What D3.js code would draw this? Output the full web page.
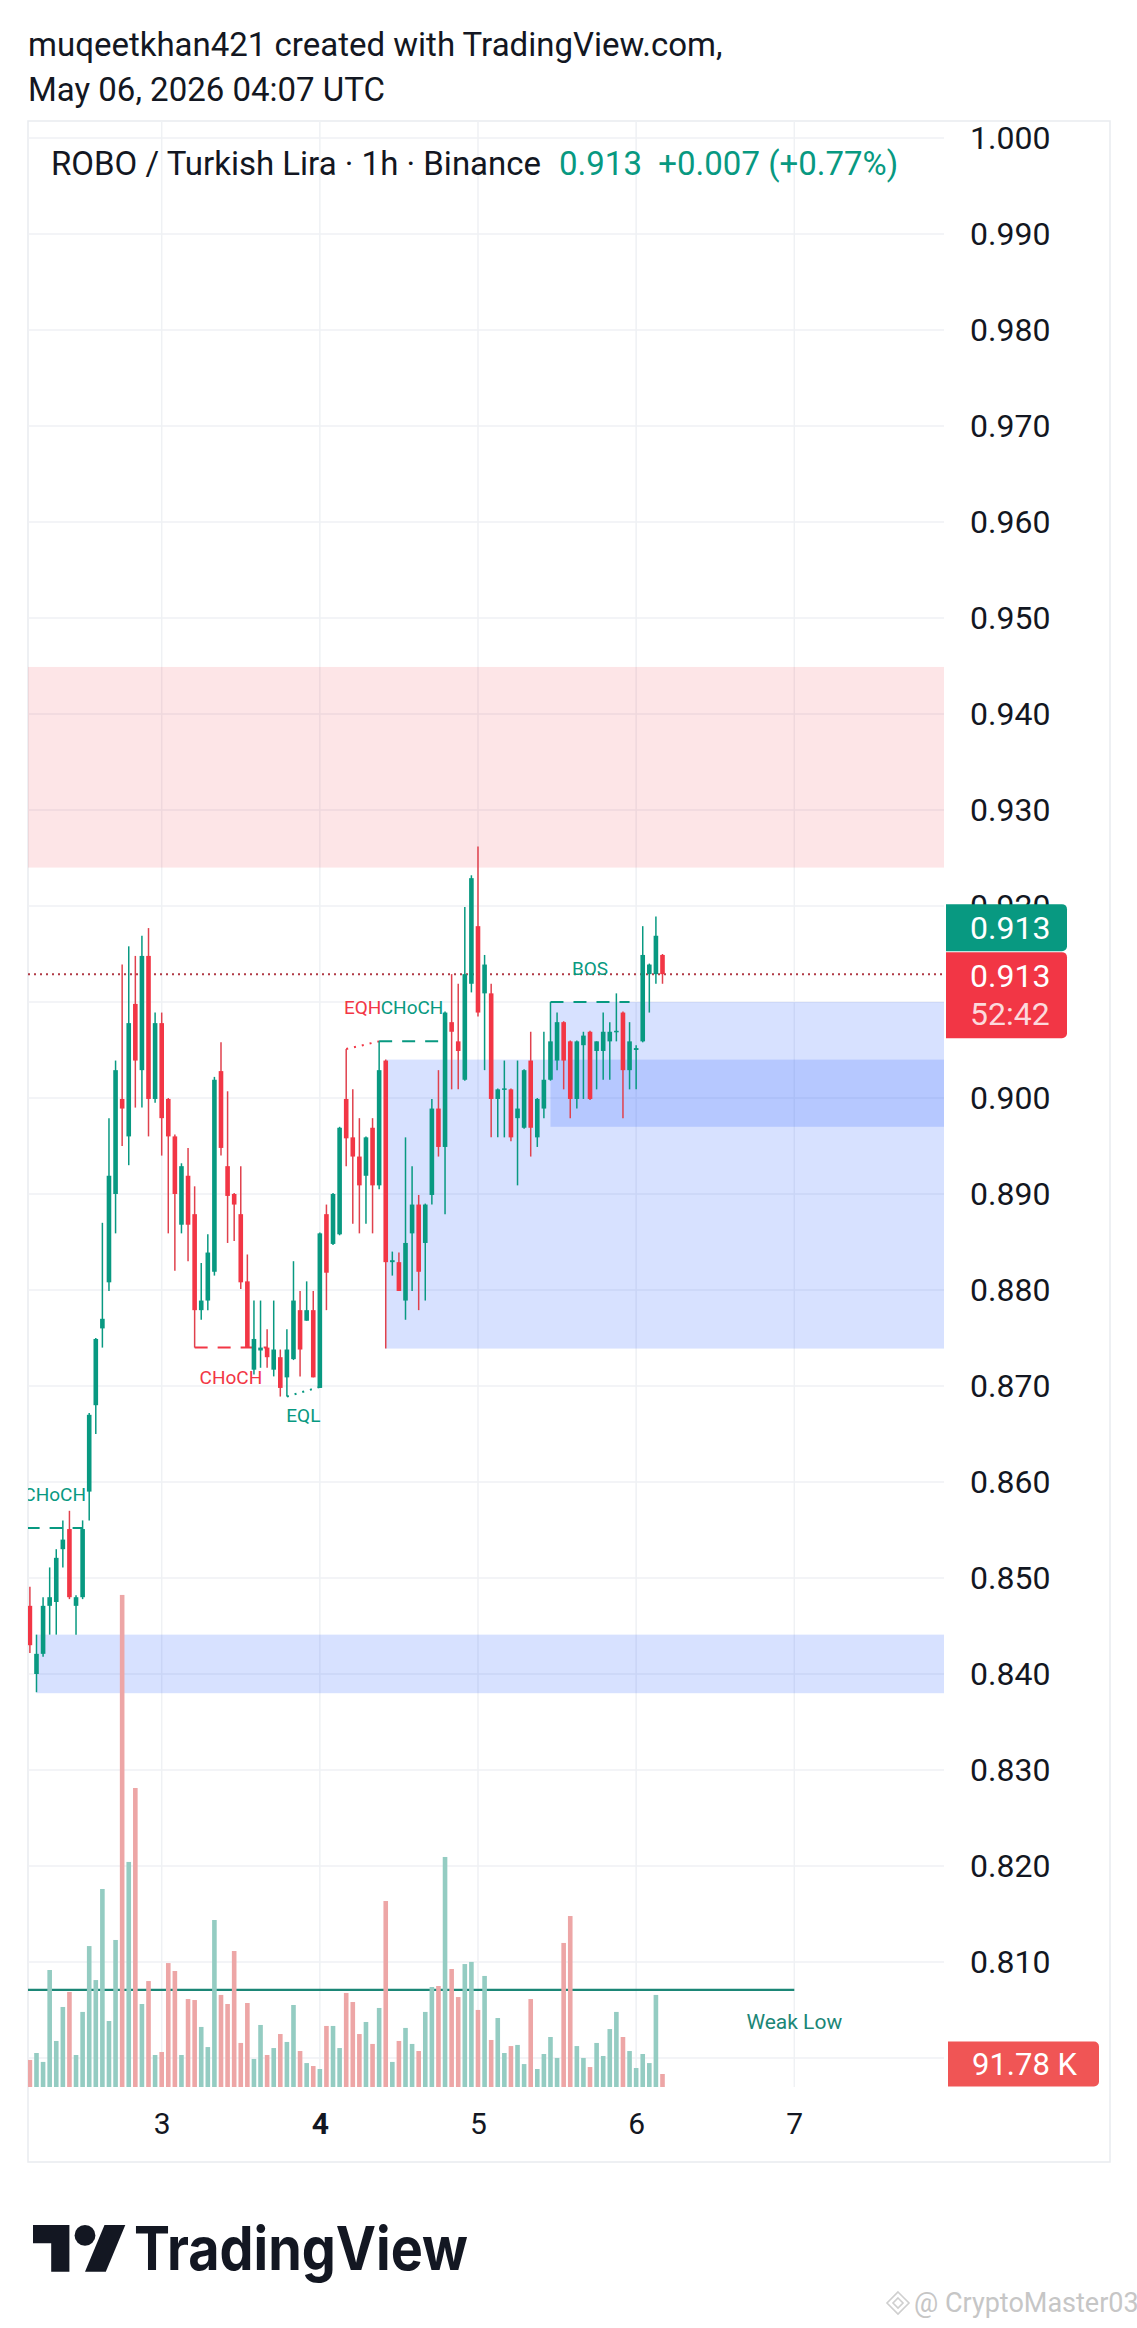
<!DOCTYPE html>
<html>
<head>
<meta charset="utf-8">
<script src="https://cdn.jsdelivr.net/npm/d3@7"></script>
<style>
  html, body { margin: 0; padding: 0; background: #fff; }
  svg { display: block; font-family: Roboto, "Noto Sans", sans-serif; }
</style>
</head>
<body>
<svg id="chart" width="1137" height="2328"></svg>
<script>
// ROBO / TRY, 1h candles (Binance), first bar May 2 04:00 UTC
var startTime = "2026-05-02T04:00:00Z";

var opens = [
  .8471, .8400, .8421, .8471, .8475, .8530, .8551, .8471, .8480, .8590,
  .8680, .8760, .8808, .8900, .8999, .8960, .9098, .9029, .9148, .8999,
  .9078, .8999, .8960, .8868, .8919, .8879, .8779, .8789, .8819, .9028,
  .8929, .8900, .8879, .8809, .8717, .8737, .8740, .8717, .8730, .8709,
  .8728, .8779, .8768, .8779, .8698, .8879, .8848, .8858, .8999, .8959,
  .8939, .8919, .8969, .8909, .9039, .8829, .8829, .8789, .8859, .8889,
  .8849, .8899, .8989, .8949, .9079, .9059, .9019, .9119, .9179, .9109,
  .9109, .8999, .9009, .9009, .8979, .8969, .9039, .8959, .8989, .9019,
  .9039, .9079, .9059, .8999, .9055, .9069, .9049, .9049, .9059, .9069,
  .9089, .9029, .9050, .9059, .9129, .9129, .9149
];
var highs = [
  .8491, .8441, .8480, .8511, .8530, .8560, .8570, .8482, .8560, .8672,
  .8750, .8870, .8979, .9039, .9139, .9158, .9148, .9169, .9177, .9089,
  .9089, .9000, .8962, .8932, .8948, .8908, .8828, .8858, .9022, .9058,
  .9007, .8901, .8929, .8837, .8789, .8789, .8759, .8789, .8738, .8759,
  .8830, .8799, .8809, .8799, .8860, .8889, .8901, .8970, .9051, .9009,
  .8979, .8960, .8979, .9059, .9040, .8840, .8839, .8959, .8929, .8899,
  .8890, .8999, .9029, .9090, .9129, .9119, .9199, .9232, .9262, .9149,
  .9119, .9010, .9039, .9010, .9039, .9030, .9069, .9000, .9069, .9100,
  .9089, .9080, .9060, .9060, .9069, .9070, .9059, .9089, .9079, .9109,
  .9090, .9079, .9055, .9179, .9140, .9189, .9150
];
var lows = [
  .8422, .8381, .8418, .8441, .8441, .8511, .8478, .8441, .8478, .8560,
  .8650, .8740, .8799, .8859, .8950, .8930, .8990, .8990, .8960, .8995,
  .8940, .8859, .8820, .8859, .8830, .8740, .8769, .8779, .8815, .8940,
  .8849, .8851, .8801, .8740, .8712, .8719, .8719, .8710, .8689, .8689,
  .8727, .8710, .8768, .8709, .8698, .8779, .8847, .8857, .8929, .8869,
  .8859, .8869, .8859, .8905, .8739, .8815, .8799, .8769, .8799, .8779,
  .8789, .8889, .8939, .8879, .9009, .9009, .9018, .9110, .9085, .9029,
  .8959, .8959, .8959, .8955, .8909, .8968, .8939, .8949, .8979, .9018,
  .9029, .9009, .8979, .8989, .8999, .8998, .9009, .9019, .9019, .9059,
  .8979, .9009, .9009, .9058, .9089, .9119, .9119
];
var closes = [
  .8430, .8421, .8471, .8480, .8521, .8540, .8480, .8480, .8551, .8670,
  .8749, .8770, .8919, .9029, .8989, .9078, .9039, .9148, .8999, .9078,
  .8979, .8960, .8900, .8929, .8868, .8779, .8789, .8839, .9019, .8948,
  .8898, .8889, .8808, .8740, .8749, .8740, .8730, .8738, .8698, .8738,
  .8789, .8738, .8779, .8709, .8859, .8818, .8900, .8969, .8958, .8939,
  .8909, .8959, .8909, .9029, .8829, .8831, .8799, .8849, .8889, .8819,
  .8889, .8989, .8949, .9089, .9069, .9049, .9129, .9229, .9089, .9139,
  .8999, .9009, .9010, .8959, .8989, .9029, .8969, .8999, .9019, .9059,
  .9079, .9039, .8999, .9059, .9065, .8999, .9059, .9069, .9069, .9070,
  .9029, .9059, .9052, .9149, .9139, .9169, .9129
];
// volume, thousands of ROBO
var volumes = [
  191, 240, 177, 826, 325, 565, 671, 226, 530, 995,
  755, 1398, 466, 1038, 3474, 1589, 2111, 586, 748, 226,
  247, 875, 819, 226, 621, 614, 424, 282, 1179, 650,
  586, 960, 311, 593, 198, 438, 226, 275, 374, 318,
  579, 254, 169, 148, 127, 431, 431, 275, 664, 600,
  374, 459, 304, 558, 1313, 177, 325, 417, 304, 254,
  530, 706, 713, 1624, 833, 635, 868, 883, 544, 784,
  332, 487, 240, 289, 297, 162, 621, 127, 233, 353,
  205, 1017, 1207, 289, 205, 141, 311, 219, 409, 530,
  353, 254, 134, 233, 169, 650, 91.78
];

var gridTicks = [1.000, 0.990, 0.980, 0.970, 0.960, 0.950, 0.940, 0.930, 0.920, 0.910,
  0.900, 0.890, 0.880, 0.870, 0.860, 0.850, 0.840, 0.830, 0.820, 0.810, 0.800];
var priceLabels = [1.000, 0.990, 0.980, 0.970, 0.960, 0.950, 0.940, 0.930, 0.920, 0.910,
  0.900, 0.890, 0.880, 0.870, 0.860, 0.850, 0.840, 0.830, 0.820, 0.810];
var dayTicks = ["2026-05-03", "2026-05-04", "2026-05-05", "2026-05-06", "2026-05-07"];
var boldDay = "4";

// order blocks: start bar, top, bottom, side
var zoneFrom = [-5, 1, 54, 79];
var zoneTop = [0.9449, 0.8441, 0.9040, 0.9100];
var zoneBottom = [0.9240, 0.8380, 0.8739, 0.8970];
var zoneSide = ["bear", "bull", "bull", "bull"];

// market structure: from bar, to bar, price, label, side, style
var structFrom = [-0.5, 25, 39, 48, 53, 79];
var structTo = [8, 36, 44, 53, 63, 91];
var structFromPrice = [0.8552, 0.8740, 0.8689, 0.9051, 0.9059, 0.9100];
var structToPrice = [0.8552, 0.8740, 0.8699, 0.9059, 0.9059, 0.9100];
var structLabel = ["CHoCH", "CHoCH", "EQL", "EQH", "CHoCH", "BOS"];
var structSide = ["bull", "bear", "bull", "bear", "bull", "bull"];
var structKind = ["break", "break", "equal", "equal", "break", "break"];

var weakLowPrice = 0.8071;
var weakLowTo = "2026-05-07";

var headerLines = ["muqeetkhan421 created with TradingView.com,", "May 06, 2026 04:07 UTC"];
var symbolTitle = "ROBO / Turkish Lira \u00b7 1h \u00b7 Binance";
var lastChange = "+0.007 (+0.77%)";
var countdown = "52:42";

var UP = "#089981", DOWN = "#f23645";
var UP_VOL = "#94ccc2", DOWN_VOL = "#eda6a6";

var svg = d3.select("#chart");
var frame = {left: 28, top: 121, right: 1110, bottom: 2162};
var pane = {left: 28, top: 121, right: 944, bottom: 2087};

var t0 = new Date(startTime);
var times = d3.utcHour.range(t0, d3.utcHour.offset(t0, opens.length));
var bars = opens.map(function(o, i) {
  return {t: times[i], o: o, h: highs[i], l: lows[i], c: closes[i], v: volumes[i]};
});

var x = d3.scaleUtc().domain([times[0], times[times.length - 1]]).range([29.9, 662.5]);
function xi(i) { return x(new Date(+t0 + i * 3600e3)); }
var y = d3.scaleLinear().domain([1.0, 0.8]).range([138, 2058]);
var yVol = d3.scaleLinear().domain([0, 3500]).range([pane.bottom, pane.bottom - 3500 / 7.06]);
var bodyW = 4.6;

// header
svg.selectAll("text.hdr").data(headerLines).enter().append("text")
  .attr("class", "hdr")
  .attr("x", 28).attr("y", function(d, i) { return 56 + i * 45; })
  .attr("font-size", 33).attr("fill", "#131722")
  .text(function(d) { return d; });

svg.append("rect")
  .attr("x", frame.left).attr("y", frame.top)
  .attr("width", frame.right - frame.left).attr("height", frame.bottom - frame.top)
  .attr("fill", "#fff").attr("stroke", "#e9ebef").attr("stroke-width", 1.5);

svg.append("clipPath").attr("id", "paneClip").append("rect")
  .attr("x", pane.left).attr("y", pane.top)
  .attr("width", pane.right - pane.left).attr("height", pane.bottom - pane.top);

var g = svg.append("g").attr("clip-path", "url(#paneClip)");

// grid
g.selectAll("line.hgrid").data(gridTicks).enter().append("line")
  .attr("x1", pane.left).attr("x2", pane.right)
  .attr("y1", function(d) { return y(d); }).attr("y2", function(d) { return y(d); })
  .attr("stroke", "#eff1f4").attr("stroke-width", 1.5);
g.selectAll("line.vgrid").data(dayTicks).enter().append("line")
  .attr("x1", function(d) { return x(new Date(d + "T00:00:00Z")); })
  .attr("x2", function(d) { return x(new Date(d + "T00:00:00Z")); })
  .attr("y1", pane.top).attr("y2", pane.bottom)
  .attr("stroke", "#eff1f4").attr("stroke-width", 1.5);

// zones
g.selectAll("rect.zone").data(zoneFrom).enter().append("rect")
  .attr("x", function(d) { return xi(d); })
  .attr("width", function(d) { return pane.right - xi(d); })
  .attr("y", function(d, i) { return y(zoneTop[i]); })
  .attr("height", function(d, i) { return y(zoneBottom[i]) - y(zoneTop[i]); })
  .attr("fill", function(d, i) { return zoneSide[i] == "bear" ? "rgba(242,54,69,0.13)" : "rgba(41,98,255,0.19)"; });

// last price line
var last = bars[bars.length - 1];
g.append("line")
  .attr("x1", pane.left).attr("x2", pane.right)
  .attr("y1", y(last.c)).attr("y2", y(last.c))
  .attr("stroke", "#b03a45").attr("stroke-width", 2).attr("stroke-dasharray", "2,4");

// weak low
var wlX = x(new Date(weakLowTo + "T00:00:00Z"));
g.append("line")
  .attr("x1", pane.left).attr("x2", wlX)
  .attr("y1", y(weakLowPrice)).attr("y2", y(weakLowPrice))
  .attr("stroke", "#1b8676").attr("stroke-width", 2.2);
g.append("text")
  .attr("x", wlX).attr("y", y(weakLowPrice) + 32)
  .attr("text-anchor", "middle").attr("dy", "0.35em")
  .attr("font-size", 21).attr("fill", "#1b8676")
  .text("Weak Low");

// volume
g.selectAll("rect.vol").data(bars).enter().append("rect")
  .attr("x", function(d) { return x(d.t) - bodyW / 2; })
  .attr("width", bodyW)
  .attr("y", function(d) { return yVol(d.v); })
  .attr("height", function(d) { return yVol(0) - yVol(d.v); })
  .attr("fill", function(d) { return d.c >= d.o ? UP_VOL : DOWN_VOL; });

// structure lines
var structs = structLabel.map(function(l, i) {
  return {from: structFrom[i], to: structTo[i], p1: structFromPrice[i], p2: structToPrice[i],
    label: l, side: structSide[i], kind: structKind[i]};
});
g.selectAll("line.struct").data(structs).enter().append("line")
  .attr("x1", function(d) { return xi(d.from); })
  .attr("x2", function(d) { return xi(d.to); })
  .attr("y1", function(d) { return y(d.p1); })
  .attr("y2", function(d) { return y(d.p2); })
  .attr("stroke", function(d) { return d.side == "bull" ? UP : DOWN; })
  .attr("stroke-width", 2)
  .attr("stroke-dasharray", function(d) { return d.kind == "equal" ? "2,6" : "13,10"; });

// candles
var candle = g.selectAll("g.candle").data(bars).enter().append("g");
candle.append("line")
  .attr("x1", function(d) { return x(d.t); }).attr("x2", function(d) { return x(d.t); })
  .attr("y1", function(d) { return y(d.h); }).attr("y2", function(d) { return y(d.l); })
  .attr("stroke", function(d) { return d.c >= d.o ? UP : "#e0414d"; })
  .attr("stroke-width", 1.5);
candle.append("rect")
  .attr("x", function(d) { return x(d.t) - bodyW / 2; })
  .attr("width", bodyW)
  .attr("y", function(d) { return y(Math.max(d.o, d.c)); })
  .attr("height", function(d) { return Math.max(1.5, Math.abs(y(d.o) - y(d.c))); })
  .attr("fill", function(d) { return d.c >= d.o ? UP : DOWN; });

// structure labels
g.selectAll("text.struct").data(structs).enter().append("text")
  .attr("x", function(d) { return xi((d.from + d.to) / 2); })
  .attr("y", function(d) {
    var p = (d.p1 + d.p2) / 2;
    if (d.kind == "equal") return y(p) + (d.side == "bull" ? 24 : -38);
    return y(p) + (d.side == "bull" ? -34 : 30);
  })
  .attr("dy", "0.35em").attr("text-anchor", "middle")
  .attr("font-size", 19)
  .attr("fill", function(d) { return d.side == "bull" ? UP : DOWN; })
  .text(function(d) { return d.label; });

// title
var title = svg.append("text")
  .attr("x", 51).attr("y", 175).attr("font-size", 33).attr("fill", "#131722")
  .text(symbolTitle);
var tEnd = 51 + title.node().getComputedTextLength();
svg.append("text")
  .attr("x", tEnd + 18).attr("y", 175).attr("font-size", 33).attr("fill", UP)
  .attr("xml:space", "preserve")
  .text(d3.format(".3f")(last.c) + "  " + lastChange);

// price axis
var yAxis = d3.axisRight(y).tickValues(priceLabels).tickFormat(d3.format(".3f"))
  .tickSize(0).tickPadding(26);
var ya = svg.append("g").attr("transform", "translate(" + pane.right + ",0)").call(yAxis);
ya.select(".domain").remove();
ya.selectAll("text").attr("font-size", 32).attr("fill", "#131722")
  .attr("font-family", "Roboto, sans-serif");

// time axis
var xAxis = d3.axisBottom(x).tickValues(dayTicks.map(function(d) { return new Date(d + "T00:00:00Z"); }))
  .tickFormat(d3.utcFormat("%-d")).tickSize(0).tickPadding(26);
var xa = svg.append("g").attr("transform", "translate(0," + pane.bottom + ")").call(xAxis);
xa.select(".domain").remove();
xa.selectAll("text").attr("font-size", 30).attr("fill", "#131722")
  .attr("font-family", "Roboto, sans-serif")
  .attr("font-weight", function(d) { return d3.utcFormat("%-d")(d) == boldDay ? 700 : 400; });

// price badges
function badge(x0, top, w, h, color) {
  svg.append("path")
    .attr("d", "M" + x0 + "," + top + "h" + (w - 5) + "a5,5 0 0 1 5,5v" + (h - 10) +
      "a5,5 0 0 1 -5,5h" + (-(w - 5)) + "z")
    .attr("fill", color);
}
var redTop = y(last.c) - 22;
badge(946, redTop, 121, 86, "#f23645");
badge(946, redTop - 48, 121, 47, UP);
svg.append("text").attr("x", 970).attr("y", redTop - 24.5).attr("dy", "0.35em")
  .attr("font-size", 32).attr("fill", "#fff").text(d3.format(".3f")(last.c));
svg.append("text").attr("x", 970).attr("y", redTop + 24).attr("dy", "0.35em")
  .attr("font-size", 32).attr("fill", "#fff").text(d3.format(".3f")(last.c));
svg.append("text").attr("x", 970).attr("y", redTop + 62).attr("dy", "0.35em")
  .attr("font-size", 32).attr("fill", "rgba(255,255,255,0.82)").text(countdown);

// volume badge (clamped to pane)
var vbY = Math.min(yVol(last.v), pane.bottom - 23);
badge(948, vbY - 22.5, 151, 45, "#f05555");
svg.append("text").attr("x", 972).attr("y", vbY).attr("dy", "0.35em")
  .attr("font-size", 31).attr("fill", "#fff").text(d3.format(".2f")(last.v) + " K");

// TradingView logo
var logo = svg.append("g").attr("transform", "translate(33,2214.6) scale(2.6)").attr("fill", "#131722");
logo.append("path").attr("d", "M14 22H7V11H0V4h14v18z");
logo.append("circle").attr("cx", 20).attr("cy", 8).attr("r", 4);
logo.append("path").attr("d", "M28 22h-8l7.5-18h8L28 22z");
svg.append("text")
  .attr("x", 134).attr("y", 2270)
  .attr("font-size", 60).attr("font-weight", 700).attr("fill", "#131722")
  .attr("font-family", "Inter, Roboto, sans-serif")
  .attr("textLength", 334).attr("lengthAdjust", "spacingAndGlyphs")
  .text("TradingView");

// watermark
var wm = svg.append("g").attr("transform", "translate(898,2303)")
  .attr("fill", "none").attr("stroke", "#cfcfcf").attr("stroke-width", 1.6);
wm.append("path").attr("d", "M0,-11 L11,0 L0,11 L-11,0 Z");
wm.append("path").attr("d", "M0,-5 L5,0 L0,5 L-5,0 Z");
svg.append("text").attr("x", 914).attr("y", 2303).attr("dy", "0.35em")
  .attr("font-size", 27).attr("fill", "#c6c6c6")
  .text("@ CryptoMaster03");
</script>
</body>
</html>
